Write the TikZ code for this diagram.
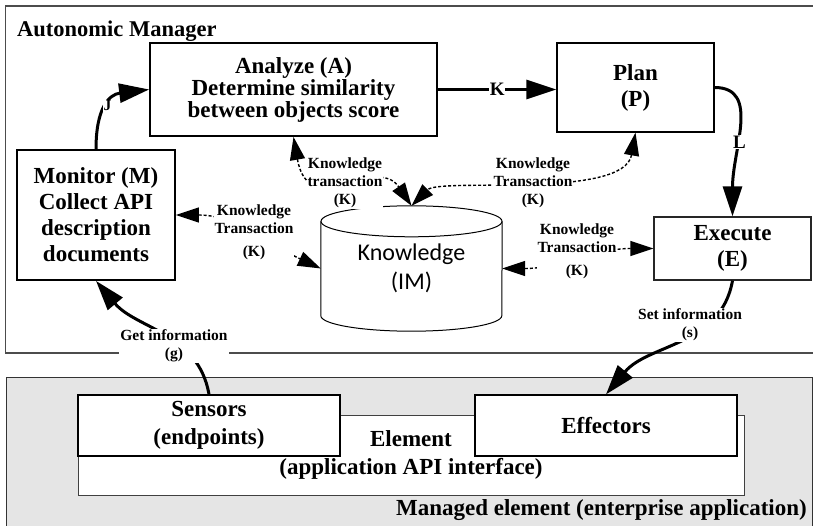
\documentclass[tikz,border=0pt]{standalone}
\usepackage{fontspec}
\setmainfont{Liberation Serif}
\newfontfamily\kfont{Carlito}
\usetikzlibrary{arrows.meta}

\begin{document}
\begin{tikzpicture}[x=1pt, y=1pt,
        box/.style={draw, fill=white, line width=1.2pt, align=center, inner sep=0pt,
            font=\bfseries\fontsize{23}{26}\selectfont},
        flow/.style={line width=3pt, -{Triangle[length=30pt,width=19pt]}},
        ktrans/.style={line width=1.4pt, dash pattern=on 3pt off 2pt,
            {Triangle[length=23pt,width=15pt]}-{Triangle[length=23pt,width=15pt]}},
        lbl/.style={fill=white, inner sep=1pt, align=center,
            font=\bfseries\fontsize{15.5}{18}\selectfont}]

    \useasboundingbox (0,0) rectangle (813,-526);

    % Rahmen
    \draw[black!70, line width=1.3pt] (813,-6) -- (5.5,-6) -- (5.5,-353) -- (813,-353);
    \fill[black!10] (6,-377) rectangle (812,-526);
    \draw[black!80, line width=1pt] (6,-526) -- (6,-377) -- (812,-377) -- (812,-526);
    \node[anchor=base west, inner sep=0pt, font=\bfseries\fontsize{22.5}{24}\selectfont] (am) at (17,-37) {Autonomic Manager};
    \node[anchor=base east, inner sep=0pt, font=\bfseries\fontsize{23}{26}\selectfont] (me) at (807,-515) {Managed element (enterprise application)};

    % Kaesten
    \node[box, line width=1.8pt, minimum width=158pt, minimum height=130pt] (mon) at (96,-215) {Monitor (M)\\Collect API\\description\\documents};
    \node[box, line width=1.8pt, minimum width=287pt, minimum height=93pt, font=\bfseries\fontsize{23}{22}\selectfont] (an) at (293.5,-89.5) {Analyze (A)\\Determine similarity\\between objects score};
    \node[box, minimum width=157pt, minimum height=89pt] (pl) at (635.5,-87.5) {Plan\\(P)};
    \node[box, draw=black!85, minimum width=157pt, minimum height=63pt] (ex) at (732.5,-248.5) {Execute\\(E)};
    \node[box, line width=0.9pt, draw=black!75, minimum width=666pt, minimum height=80pt, font=\bfseries\fontsize{23}{28}\selectfont] (el) at (411,-455) {Element\\(application API interface)};
    \node[box, line width=1.5pt, minimum width=262pt, minimum height=61pt, font=\bfseries\fontsize{23}{28}\selectfont] (sen) at (209,-425.5) {Sensors\\(endpoints)};
    \node[box, minimum width=262pt, minimum height=61pt] (eff) at (606,-425.5) {Effectors};

    % Wissensspeicher
    \node[minimum width=181pt, minimum height=125pt, inner sep=0pt, align=center, font=\kfont\fontsize{24}{29}\selectfont] (kn) at (411.5,-268.5) {Knowledge\\(IM)};
    \draw[line width=1pt] ([yshift=-15.5pt]kn.north) ellipse [x radius=90.5pt, y radius=15.5pt];
    \draw[line width=1pt] ([yshift=-15.5pt]kn.north west) -- ([yshift=15.5pt]kn.south west)
        arc[start angle=180, end angle=360, x radius=90.5pt, y radius=15.5pt] -- ([yshift=-15.5pt]kn.north east);

    % Pfeile & Beschriftung
    \draw[flow] (mon.north) to[out=90, in=187, looseness=1.3] node[lbl, inner sep=0.5pt] (jl) {J} (an.west);
    \draw[flow] (an.east) -- node[lbl, inner sep=0.5pt, font=\bfseries\fontsize{19}{22}\selectfont] (kl) {K} (an.east -| pl.west);
    \draw[flow] (pl.east) to[out=0, in=90, out distance=46pt, in distance=67pt] node[pos=0.6, lbl, inner sep=0.5pt, font=\bfseries\fontsize{19}{22}\selectfont] (ll) {L} (ex.north);
    \draw[flow] (sen.north) to[out=100, in=-50] (mon.south);
    \node[lbl] (gl) at (174,-346) {Get information\\(g)};
    \draw[flow] (ex.south) to[out=-100, in=50] (eff.north);
    \node[lbl] (sl) at (690,-325) {Set information\\(s)};

    % Wissenstransaktionen
    \draw[ktrans] (an.south) to[out=-80, in=124, out distance=87pt, in distance=63pt] (kn.north);
    \node[lbl] (ka) at (345,-183) {Knowledge\\transaction\\(K)};
    \draw[ktrans] (pl.south) to[out=-100, in=45, out distance=68pt, in distance=40pt] (kn.north);
    \node[lbl] (kp) at (533,-183) {Knowledge\\Transaction\\(K)};
    \draw[ktrans] (mon.east) to[out=0, in=155] (kn.west);
    \node[lbl] (km) at (254,-232) {Knowledge\\Transaction\\[5pt](K)};
    \draw[ktrans] (kn.east) to[out=0, in=180] (ex.west);
    \node[lbl] (ke) at (577,-251) {Knowledge\\Transaction\\[5pt](K)};
\end{tikzpicture}
\end{document}
